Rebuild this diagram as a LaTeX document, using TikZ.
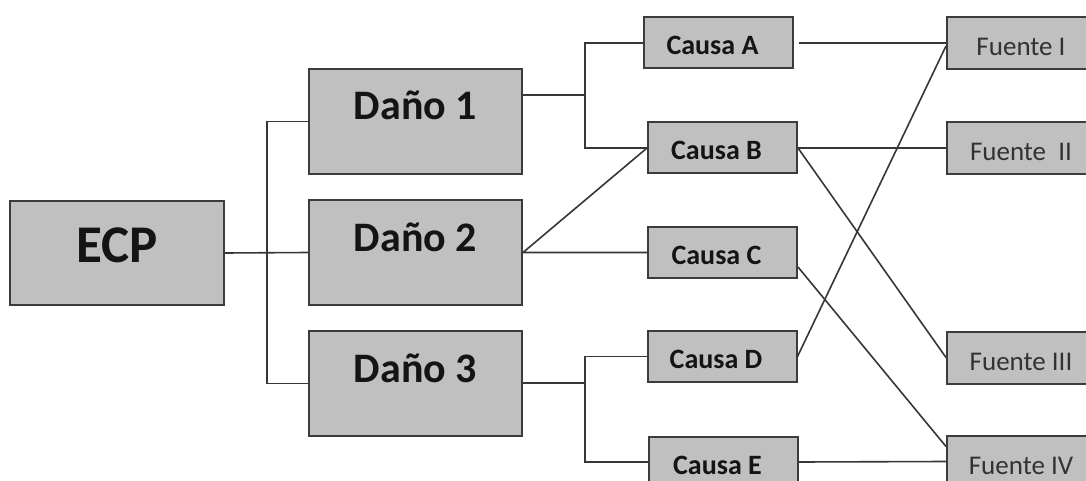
\documentclass[tikz,border=0pt]{standalone}
\usepackage{fontspec}
\setmainfont{Carlito}
\definecolor{boxfill}{RGB}{192,192,192}
\definecolor{boxline}{RGB}{60,60,60}
\definecolor{conn}{RGB}{55,55,55}
\definecolor{txt}{RGB}{20,20,20}
\definecolor{ftxt}{RGB}{50,50,50}
\tikzset{
  box/.style={draw=boxline, fill=boxfill, line width=2pt, inner sep=0pt, text=txt},
  ecpbox/.style={box, minimum width=214pt, minimum height=104pt, text height=19pt, text depth=0pt,
     font=\fontsize{53pt}{60pt}\selectfont\bfseries},
  danobox/.style={box, minimum width=213pt, minimum height=105pt, text height=5pt, text depth=8pt,
     font=\fontsize{42pt}{48pt}\selectfont\bfseries},
  causabox/.style={box, minimum width=149pt, minimum height=51pt, text height=24pt, text depth=0pt,
     font=\fontsize{28pt}{32pt}\selectfont\bfseries},
  fuentebox/.style={box, minimum width=148pt, minimum height=52pt, text height=26pt, text depth=0pt,
     text=ftxt, font=\fontsize{27pt}{32pt}\selectfont},
  link/.style={draw=conn, line width=1.6pt},
}
\begin{document}
\begin{tikzpicture}[x=1pt,y=-1pt]
\useasboundingbox (0,0) rectangle (1086,481);
\clip (0,0) rectangle (1086,481);
\fill[white] (0,0) rectangle (1086,481);

% boxes
\node[ecpbox] (ecp) at (117,253) {ECP};
\node[danobox] (d1) at (415.5,121.5) {Daño 1};
\node[danobox] (d2) at (415.5,252.5) {Daño 2};
\node[danobox] (d3) at (415.5,383.5) {Daño 3};

\node[causabox] (cA) at (718.5,43) {Causa A\hspace*{12pt}};
\node[causabox] (cB) at (722.5,148) {Causa B\hspace*{12pt}};
\node[causabox] (cC) at (722.5,252.5) {Causa C\hspace*{12pt}};
\node[causabox] (cD) at (722,356.5) {Causa D\hspace*{12pt}};
\node[causabox] (cE) at (723.5,462) {Causa E\hspace*{12pt}};

\node[fuentebox] (f1) at (1021,43) {Fuente I};
\node[fuentebox] (f2) at (1021,148) {Fuente\ \ II};
\node[fuentebox] (f3) at (1021,357.5) {Fuente III};
\node[fuentebox] (f4) at (1021,461.5) {Fuente IV};

% branch points
\coordinate (t1) at (267,121.5);
\coordinate (b1) at (585,95);
\coordinate (b3) at (585,383);

% ECP -> Daños
\draw[link] (ecp.east) -- (d2.west);
\draw[link] (d1.west) -- (t1) |- (d3.west);

% Daño 1 -> Causa A, B
\draw[link] (d1.east |- b1) -- (b1);
\draw[link] (cA.west) -| (b1) |- (cB.west);

% Daño 2 -> Causa B, C
\draw[link] (cB.west) -- (d2.east) -- (cC.west);

% Daño 3 -> Causa D, E
\draw[link] (d3.east |- b3) -- (b3);
\draw[link] (cD.west) -| (b3) |- (cE.west);

% Causas -> Fuentes
\draw[link] ([xshift=5pt]cA.east) -- (f1.west);
\draw[link] (cB.east) -- (f2.west);
\draw[link] (cB.east) -- (f3.west);
\draw[link] ([yshift=-14.5pt]cC.east) -- ([yshift=-12pt]f4.north west);
\draw[link] (cD.east) -- ([yshift=-3pt]f1.west);
\draw[link] (cE.east) -- (f4.west);
\end{tikzpicture}
\end{document}
